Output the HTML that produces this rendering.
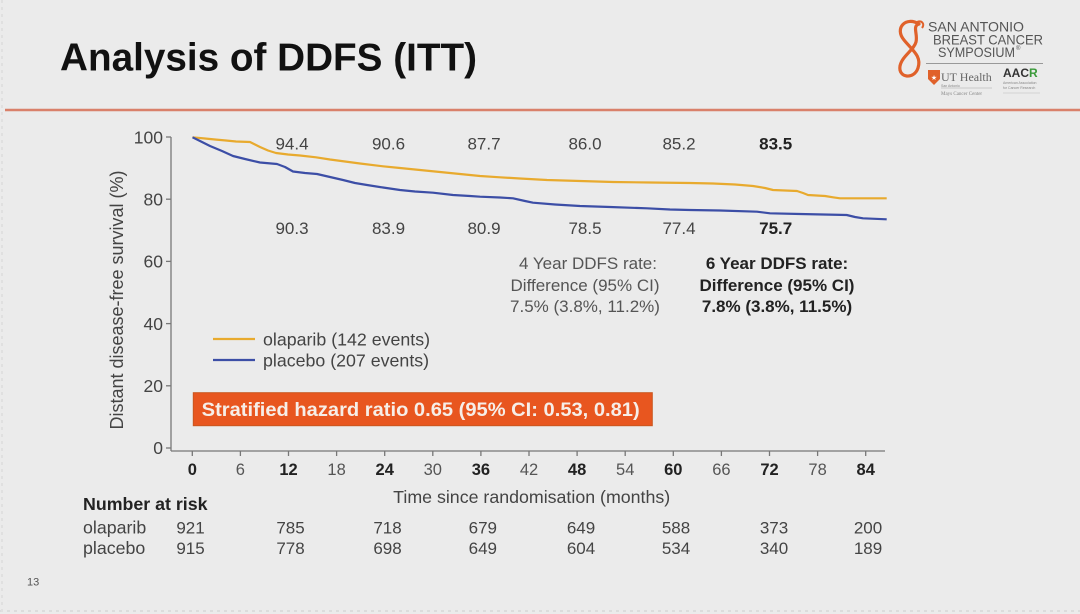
<!DOCTYPE html>
<html><head><meta charset="utf-8"><style>
html,body{margin:0;padding:0;background:#ebebeb;}
svg{display:block;font-family:"Liberation Sans",Arial,sans-serif;}
</style></head><body>
<svg width="1080" height="614" viewBox="0 0 1080 614" xmlns="http://www.w3.org/2000/svg">
<rect x="0" y="0" width="1080" height="614" fill="#ebebeb"/>
<line x1="0" y1="611" x2="1080" y2="611" stroke="#dcdcdc" stroke-width="2" stroke-dasharray="3,4"/>
<line x1="2" y1="0" x2="2" y2="614" stroke="#e0e0e0" stroke-width="2" stroke-dasharray="3,4"/>
<!-- Title -->
<text x="60" y="70.5" font-size="38.7" font-weight="bold" fill="#111">Analysis of DDFS (ITT)</text>
<line x1="5" y1="110" x2="1080" y2="110" stroke="#d9806a" stroke-width="2.5"/>
<!-- Logo -->
<g>
  <path d="M919 24 C906 16,894 28,904 40 C912 50,922 56,918 68 C914 80,898 78,900 66 C902 56,914 50,916 42 C918 34,912 26,919 24" fill="none" stroke="#e0612a" stroke-width="3.2" stroke-linecap="round"/>
  <path d="M917 22 C922 20,925 24,922 28" fill="none" stroke="#e0612a" stroke-width="2"/>
  <text x="928" y="31.5" font-size="14" fill="#555" textLength="96" lengthAdjust="spacingAndGlyphs">SAN ANTONIO</text>
  <text x="933" y="44.5" font-size="14" fill="#555" textLength="110" lengthAdjust="spacingAndGlyphs">BREAST CANCER</text>
  <text x="938" y="57" font-size="14" fill="#555" textLength="77" lengthAdjust="spacingAndGlyphs">SYMPOSIUM</text>
  <text x="1016" y="50" font-size="6" fill="#555">®</text>
  <line x1="926" y1="63.5" x2="1043" y2="63.5" stroke="#999" stroke-width="1"/>
  <path d="M928 70 L940 70 L940 79 L934 85 L928 79 Z" fill="#e0612a"/>
  <text x="934" y="80" font-size="7" fill="#fff" text-anchor="middle">★</text>
  <text x="941" y="81" font-family="Liberation Serif,serif" font-size="12" fill="#666">UT Health</text>
  <line x1="941" y1="88" x2="992" y2="88" stroke="#aaa" stroke-width="0.6"/>
  <text x="941" y="87" font-size="3.5" fill="#888">San Antonio</text>
  <text x="941" y="95" font-family="Liberation Serif,serif" font-size="5" fill="#888">Mays Cancer Center</text>
  <text x="1003" y="77" font-size="12" font-weight="bold" fill="#333" textLength="26" lengthAdjust="spacingAndGlyphs">AAC</text>
  <text x="1029" y="77" font-size="12" font-weight="bold" fill="#3a9a3a">R</text>
  <text x="1003" y="84" font-size="3.5" fill="#888">American Association</text>
  <text x="1003" y="89" font-size="3.5" fill="#888">for Cancer Research</text>
  <line x1="1003" y1="93" x2="1040" y2="93" stroke="#bbb" stroke-width="0.6"/>
</g>
<!-- Axes -->
<g stroke="#777" stroke-width="1.3" fill="none">
  <line x1="171" y1="137" x2="171" y2="451"/>
  <line x1="171" y1="451" x2="885" y2="451"/>
  <line x1="166" y1="137" x2="171" y2="137"/>
  <line x1="166" y1="199.2" x2="171" y2="199.2"/>
  <line x1="166" y1="261.4" x2="171" y2="261.4"/>
  <line x1="166" y1="323.6" x2="171" y2="323.6"/>
  <line x1="166" y1="385.8" x2="171" y2="385.8"/>
  <line x1="166" y1="448" x2="171" y2="448"/>
  <line x1="192.3" y1="451" x2="192.3" y2="456"/>
  <line x1="240.4" y1="451" x2="240.4" y2="456"/>
  <line x1="288.5" y1="451" x2="288.5" y2="456"/>
  <line x1="336.6" y1="451" x2="336.6" y2="456"/>
  <line x1="384.7" y1="451" x2="384.7" y2="456"/>
  <line x1="432.8" y1="451" x2="432.8" y2="456"/>
  <line x1="480.9" y1="451" x2="480.9" y2="456"/>
  <line x1="529" y1="451" x2="529" y2="456"/>
  <line x1="577.1" y1="451" x2="577.1" y2="456"/>
  <line x1="625.2" y1="451" x2="625.2" y2="456"/>
  <line x1="673.3" y1="451" x2="673.3" y2="456"/>
  <line x1="721.4" y1="451" x2="721.4" y2="456"/>
  <line x1="769.5" y1="451" x2="769.5" y2="456"/>
  <line x1="817.6" y1="451" x2="817.6" y2="456"/>
  <line x1="865.7" y1="451" x2="865.7" y2="456"/>
</g>
<!-- Y tick labels -->
<g font-size="17.5" fill="#444" text-anchor="end">
  <text x="163" y="143.5">100</text>
  <text x="163" y="205.5">80</text>
  <text x="163" y="267.5">60</text>
  <text x="163" y="330">40</text>
  <text x="163" y="392">20</text>
  <text x="163" y="454">0</text>
</g>
<!-- X tick labels -->
<g font-size="16.5" text-anchor="middle">
  <text x="192.3" y="475" font-weight="bold" fill="#222">0</text>
  <text x="240.4" y="475" fill="#555">6</text>
  <text x="288.5" y="475" font-weight="bold" fill="#222">12</text>
  <text x="336.6" y="475" fill="#555">18</text>
  <text x="384.7" y="475" font-weight="bold" fill="#222">24</text>
  <text x="432.8" y="475" fill="#555">30</text>
  <text x="480.9" y="475" font-weight="bold" fill="#222">36</text>
  <text x="529" y="475" fill="#555">42</text>
  <text x="577.1" y="475" font-weight="bold" fill="#222">48</text>
  <text x="625.2" y="475" fill="#555">54</text>
  <text x="673.3" y="475" font-weight="bold" fill="#222">60</text>
  <text x="721.4" y="475" fill="#555">66</text>
  <text x="769.5" y="475" font-weight="bold" fill="#222">72</text>
  <text x="817.6" y="475" fill="#555">78</text>
  <text x="865.7" y="475" font-weight="bold" fill="#222">84</text>
</g>
<text x="531.7" y="503" font-size="17.8" fill="#444" text-anchor="middle">Time since randomisation (months)</text>
<text transform="translate(123,300) rotate(-90)" font-size="18" fill="#444" text-anchor="middle">Distant disease-free survival (%)</text>
<!-- Curves -->
<polyline fill="none" stroke="#e8aa2e" stroke-width="2.2" stroke-linejoin="round" points="192.5,137.3 205,138.5 215,139.5 226,140.5 236,141.5 250,142 254,144 260,147 268,150.5 276,153 288,154.5 300,155.5 316,157.3 330,159.5 345,161.5 360,163.5 383,166.3 400,168 420,170 440,172 460,174 480,176 500,177.3 520,178.5 547,180 580,181 613,182 650,182.5 690,183 713,183.5 735,184.5 753,186 765,188 773,190 797,191 803,193 808,195 825,196 833,197.3 840,198.3 886.7,198.3"/>
<polyline fill="none" stroke="#3c4ea6" stroke-width="2.2" stroke-linejoin="round" points="192.5,137.3 200,141 210,146 222,151 233,156 245,159 260,162.5 277,164 285,167 293,171.5 305,173 317,174 330,177 343,180 355,183 367,185 383,187.5 400,190 415,191.5 433,192.7 453,195 470,196 480,196.7 500,197.5 513,198.3 525,201 533,202.7 555,204.5 580,206 610,207 647,208.3 670,209.5 690,210 720,210.5 757,211.7 770,213.3 800,214 846.7,215 855,217 863,218.3 886.7,219.3"/>
<!-- Rate annotations -->
<g font-size="17" fill="#444" text-anchor="middle">
  <text x="292" y="149.5">94.4</text>
  <text x="388.5" y="149.5">90.6</text>
  <text x="484" y="149.5">87.7</text>
  <text x="585" y="149.5">86.0</text>
  <text x="679" y="149.5">85.2</text>
  <text x="775.7" y="149.5" font-weight="bold" fill="#222">83.5</text>
  <text x="292" y="234">90.3</text>
  <text x="388.5" y="234">83.9</text>
  <text x="484" y="234">80.9</text>
  <text x="585" y="234">78.5</text>
  <text x="679" y="234">77.4</text>
  <text x="775.7" y="234" font-weight="bold" fill="#222">75.7</text>
</g>
<g font-size="17" fill="#555" text-anchor="middle">
  <text x="588" y="269">4 Year DDFS rate:</text>
  <text x="585" y="291">Difference (95% CI)</text>
  <text x="585" y="312">7.5% (3.8%, 11.2%)</text>
</g>
<g font-size="17" fill="#222" font-weight="bold" text-anchor="middle">
  <text x="777" y="269">6 Year DDFS rate:</text>
  <text x="777" y="291">Difference (95% CI)</text>
  <text x="777" y="312">7.8% (3.8%, 11.5%)</text>
</g>
<!-- Legend -->
<line x1="213" y1="339" x2="255" y2="339" stroke="#e8aa2e" stroke-width="2.2"/>
<line x1="213" y1="360" x2="255" y2="360" stroke="#3c4ea6" stroke-width="2.2"/>
<text x="263" y="345.5" font-size="17.8" fill="#444">olaparib (142 events)</text>
<text x="263" y="366.5" font-size="17.8" fill="#444">placebo (207 events)</text>
<!-- HR box -->
<rect x="193.3" y="392.7" width="459" height="33" fill="#e8561f" stroke="#c9561f" stroke-width="1"/>
<text x="201.7" y="416" font-size="19.5" font-weight="bold" fill="#f6eee8" textLength="438" lengthAdjust="spacingAndGlyphs">Stratified hazard ratio 0.65 (95% CI: 0.53, 0.81)</text>
<!-- Number at risk -->
<text x="83" y="510" font-size="17.8" font-weight="bold" fill="#222">Number at risk</text>
<text x="83" y="533.5" font-size="17.8" fill="#444">olaparib</text>
<text x="83" y="554" font-size="17.8" fill="#444">placebo</text>
<g font-size="17" fill="#444" text-anchor="middle">
  <text x="190.5" y="533.5">921</text>
  <text x="290.5" y="533.5">785</text>
  <text x="387.5" y="533.5">718</text>
  <text x="482.8" y="533.5">679</text>
  <text x="581" y="533.5">649</text>
  <text x="676" y="533.5">588</text>
  <text x="774" y="533.5">373</text>
  <text x="868" y="533.5">200</text>
  <text x="190.5" y="554">915</text>
  <text x="290.5" y="554">778</text>
  <text x="387.5" y="554">698</text>
  <text x="482.8" y="554">649</text>
  <text x="581" y="554">604</text>
  <text x="676" y="554">534</text>
  <text x="774" y="554">340</text>
  <text x="868" y="554">189</text>
</g>
<text x="27" y="585.5" font-size="11" fill="#555">13</text>
</svg>
</body></html>
